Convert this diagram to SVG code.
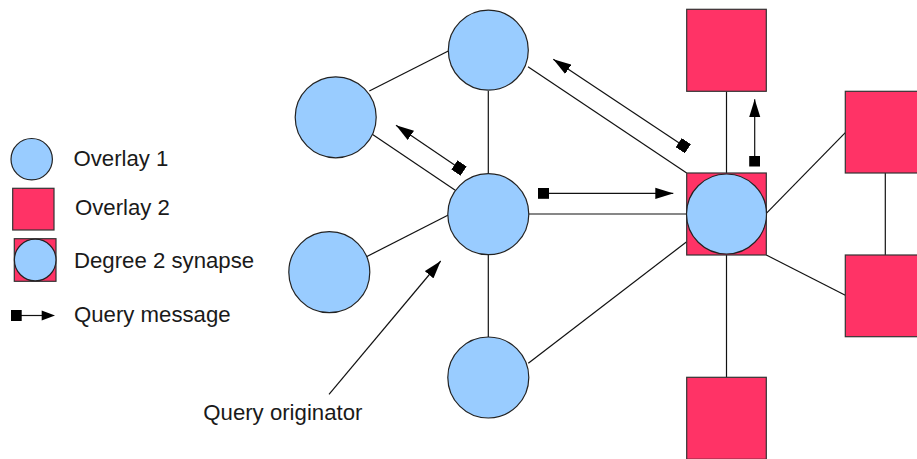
<svg xmlns="http://www.w3.org/2000/svg" width="917" height="459" viewBox="0 0 917 459">
<defs>
<style>
.ov1{fill:#99CCFF;stroke:#222;stroke-width:1.2}
.ov2{fill:#FF3366;stroke:#333;stroke-width:1.2}
.edge{stroke:#111;stroke-width:1.2;fill:none}
.msg{stroke:#111;stroke-width:1.2;fill:none;marker-start:url(#sq);marker-end:url(#tri)}
.ptr{stroke:#111;stroke-width:1.2;fill:none;marker-end:url(#tri)}
.lbl{font-family:"Liberation Sans",Arial,sans-serif;font-size:22.2px;fill:#1a1a1a}
</style>
<marker id="tri" markerUnits="userSpaceOnUse" markerWidth="18" markerHeight="12" viewBox="0 0 16 10" refX="16" refY="5" orient="auto">
<path d="M0,0 L16,5 L0,10 Z" fill="#000"/>
</marker>
<marker id="sq" markerUnits="userSpaceOnUse" markerWidth="11" markerHeight="11" viewBox="0 0 10 10" refX="5" refY="5" orient="auto">
<rect x="0" y="0" width="10" height="10" fill="#000"/>
</marker>
</defs>
<rect width="917" height="459" fill="#fff"/>

<g id="connectors">
<line class="edge" x1="448.3" y1="51" x2="369.3" y2="91"/>
<line class="edge" x1="488.3" y1="91" x2="488.3" y2="173.5"/>
<line class="edge" x1="528" y1="66.7" x2="686.7" y2="173"/>
<line class="edge" x1="369.3" y1="132.3" x2="456" y2="190.7"/>
<line class="edge" x1="448.3" y1="215" x2="366.5" y2="256.7"/>
<line class="edge" x1="528.3" y1="214" x2="686.7" y2="214"/>
<line class="edge" x1="488.3" y1="255" x2="488.3" y2="337"/>
<line class="edge" x1="528.3" y1="363.3" x2="686.7" y2="241.7"/>
<line class="edge" x1="726.5" y1="91.3" x2="726.5" y2="173"/>
<line class="edge" x1="766.3" y1="213.3" x2="845.3" y2="132.7"/>
<line class="edge" x1="766.3" y1="255" x2="845.3" y2="295.3"/>
<line class="edge" x1="885.3" y1="173" x2="885.3" y2="255"/>
<line class="edge" x1="726.5" y1="255" x2="726.5" y2="377.3"/>
<line class="msg" x1="683.3" y1="145.7" x2="553.3" y2="59.3"/>
<line class="msg" x1="459" y1="168" x2="396" y2="125.3"/>
<line class="msg" x1="543.5" y1="193.3" x2="673.3" y2="193.3"/>
<line class="msg" x1="754.7" y1="161" x2="754.7" y2="99.3"/>
<line class="ptr" x1="329" y1="394.3" x2="440.7" y2="261"/>
</g>

<g id="n-top"><circle class="ov1" cx="488.3" cy="50.2" r="40"/></g>
<g id="n-upperleft"><circle class="ov1" cx="335.7" cy="117.3" r="40.5"/></g>
<g id="n-center"><circle class="ov1" cx="488.3" cy="214.2" r="40.5"/></g>
<g id="n-lowerleft"><circle class="ov1" cx="329.3" cy="272.2" r="40.5"/></g>
<g id="n-bottom"><circle class="ov1" cx="488.3" cy="377.5" r="40.5"/></g>
<g id="n-synapse"><rect class="ov2" x="686.7" y="173" width="79.6" height="82"/><circle class="ov1" cx="726.5" cy="214" r="40"/></g>
<g id="s-top"><rect class="ov2" x="686.7" y="9.3" width="79.6" height="82"/></g>
<g id="s-upperright"><rect class="ov2" x="845.3" y="91.3" width="80" height="81.7"/></g>
<g id="s-lowerright"><rect class="ov2" x="845.3" y="255" width="80" height="81.7"/></g>
<g id="s-bottom"><rect class="ov2" x="686.7" y="377.3" width="79.6" height="82"/></g>

<g id="legend">
<circle class="ov1" cx="31.7" cy="159.2" r="20.7"/>
<text class="lbl" x="73.5" y="165.7">Overlay 1</text>
<rect class="ov2" x="12.7" y="188.3" width="41.3" height="41.7"/>
<text class="lbl" x="75" y="215">Overlay 2</text>
<rect class="ov2" x="14.3" y="238.7" width="41.7" height="42.6"/>
<circle class="ov1" cx="35.2" cy="260" r="20.8"/>
<text class="lbl" x="74" y="268.3">Degree 2 synapse</text>
<line class="edge" x1="21" y1="315.5" x2="42" y2="315.5"/>
<rect x="11" y="310" width="10.7" height="11" fill="#000"/>
<path d="M41.7,310.5 L55,315.5 L41.7,320.5 Z" fill="#000"/>
<text class="lbl" x="74" y="321.7">Query message</text>
</g>

<g id="label-originator"><text class="lbl" x="203.3" y="420">Query originator</text></g>
</svg>
